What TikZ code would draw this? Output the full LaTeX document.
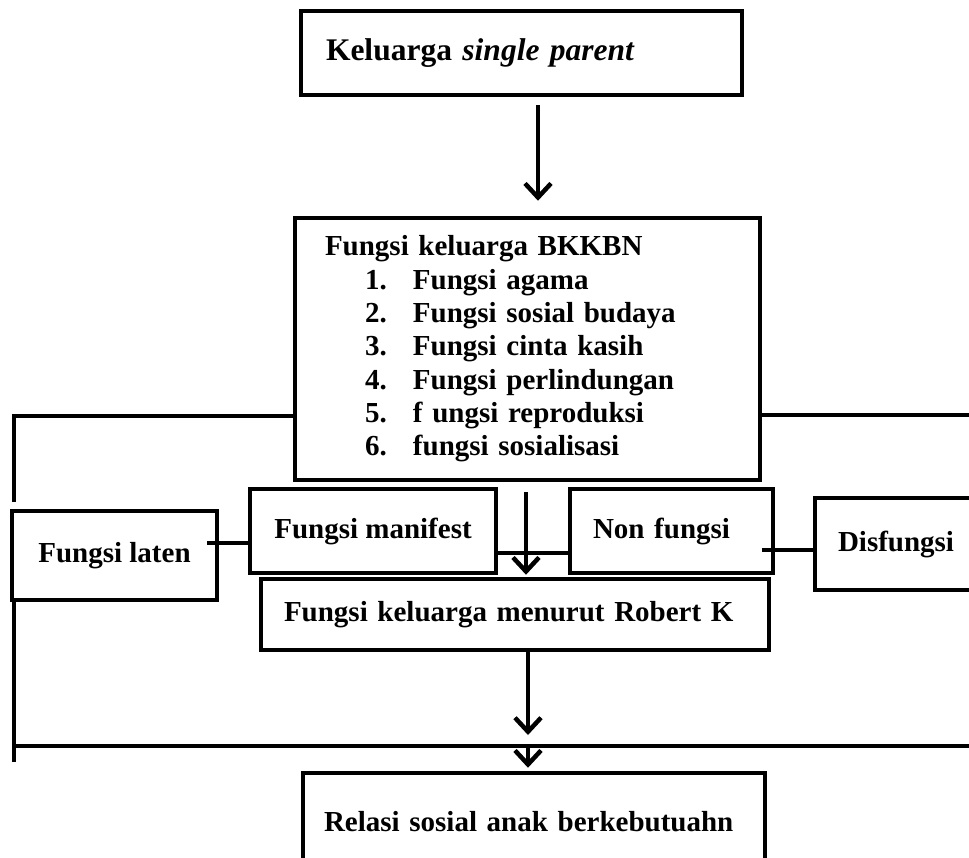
\documentclass[tikz,border=0pt]{standalone}
\usepackage{fontspec}
\setmainfont{Liberation Serif}
\usetikzlibrary{arrows.meta}
\begin{document}
\begin{tikzpicture}[x=1pt,y=-1pt,
  box/.style={draw=black,line width=4.5pt,rectangle,inner sep=0pt,
    font=\fontsize{29}{33.3}\selectfont\bfseries},
  conn/.style={line width=4.5pt},
  arr/.style={line width=4.5pt,-{Straight Barb[length=14pt,width=26pt]}}]
\clip (0,0) rectangle (969,857);
\fill[white] (0,0) rectangle (969,857);

% boxes
\node[box,minimum width=441pt,minimum height=84pt,text width=391pt,align=left,
  font=\fontsize{31.5}{36}\selectfont\bfseries] (top) at (521.5,53)
  {Keluarga \textit{single parent}};
\node[box,minimum width=465pt,minimum height=262pt,text width=405pt,align=left] (bk) at (527.5,349)
  {Fungsi keluarga BKKBN\\
   \hspace*{40pt}\makebox[48pt][l]{1.}Fungsi agama\\
   \hspace*{40pt}\makebox[48pt][l]{2.}Fungsi sosial budaya\\
   \hspace*{40pt}\makebox[48pt][l]{3.}Fungsi cinta kasih\\
   \hspace*{40pt}\makebox[48pt][l]{4.}Fungsi perlindungan\\
   \hspace*{40pt}\makebox[48pt][l]{5.}f ungsi reproduksi\\
   \hspace*{40pt}\makebox[48pt][l]{6.}fungsi sosialisasi};
\node[box,minimum width=205pt,minimum height=89pt] (laten) at (114.5,555.5) {Fungsi laten};
\node[box,minimum width=246pt,minimum height=84pt] (manifest) at (373,531) {Fungsi manifest};
\node[box,minimum width=203pt,minimum height=84pt,text width=157pt,align=left] (nonf) at (671.5,531) {Non fungsi};
\node[box,minimum width=170pt,minimum height=92pt,text width=124pt,align=left] (disf) at (900,544) {Disfungsi};
\node[box,minimum width=508pt,minimum height=71pt,text width=462pt,align=left] (robert) at (515,614.5)
  {Fungsi keluarga menurut Robert K};
\node[box,minimum width=462pt,minimum height=97pt,text width=420pt,align=left] (relasi) at (534,821.5)
  {Relasi sosial anak berkebutuahn};

% helper coordinates
\coordinate (c1) at (538,0);
\coordinate (c2) at (526,0);
\coordinate (j) at (528,746);
\coordinate (lb) at (14,502);
\coordinate (rb) at (980,0);
\coordinate (bl) at (14,762);
\coordinate (br) at (980,746);
\coordinate (lm) at (0,543);
\coordinate (mn) at (0,553);
\coordinate (nd) at (0,550);

% connectors
\draw[arr,shorten <=8pt,shorten >=15pt] (top.south -| c1) -- (bk.north -| c1);
\draw[conn] ([yshift=-67pt]bk.west) -| (lb);
\draw[conn] ([yshift=-66pt]bk.east) -- ([yshift=-66pt]bk.east -| rb);
\draw[conn] ([xshift=-12pt]laten.east |- lm) -- (manifest.west |- lm);
\draw[conn] (manifest.east |- mn) -- (nonf.west |- mn);
\draw[conn] ([xshift=-13pt]nonf.east |- nd) -- (disf.west |- nd);
\draw[arr,shorten <=10pt,shorten >=2pt] (bk.south -| c2) -- (robert.north -| c2);
\draw[conn] (laten.south -| bl) -- (bl);
\draw[conn] (bl |- j) -- (br);
\draw[arr,shorten >=11pt] (robert.south -| j) -- (j);
\draw[arr,shorten >=3pt] (j) -- (relasi.north -| j);
\end{tikzpicture}
\end{document}
